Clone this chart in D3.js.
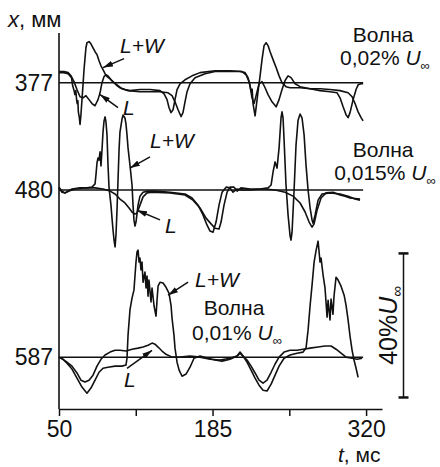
<!DOCTYPE html>
<html>
<head>
<meta charset="utf-8">
<script src="https://cdn.jsdelivr.net/npm/d3@7"></script>
<style>
  body { margin: 0; background: #fff; }
  svg { display: block; }
  text { font-family: "Liberation Sans", Arial, Helvetica, sans-serif; fill: #111; }
</style>
</head>
<body>
<div id="chart"></div>
<script>
// position labels and wave amplitudes for the 3 traces
var groupLabels = ["377", "480", "587"];
var groupBase = [90.6, 60.8, 14.4];      // baseline of each pair, in %U
var waveLabels = ["0,02%", "0,015%", "0,01%"];
var xTicks = [50, 117.5, 185, 252.5, 320];
var xTickLabels = ["50", "", "185", "", "320"];
var scaleBar = [3.2, 43.2];              // 40% U

// [t ms, u %U] relative to baseline
var g1LW = [[50,2.8],[54,2.8],[58,2.5],[61,1.4],[62,-0.8],[63.5,-2.5],[64,-3.3],[64.8,-2.2],[65.5,-4.8],[66,-5.8],[66.6,-5],[67,-8.1],[67.8,-9.5],[68.5,-11.6],[69.3,-8.9],[70.2,-4.7],[71.1,-0.6],[72,3.6],[72.9,6.9],[73.7,9.7],[74.6,11.1],[76.4,11.4],[78.1,10.8],[79.9,9.7],[81.7,8.6],[83.4,7.8],[85.2,6.1],[86.9,4.7],[88.7,3.6],[90.5,2.5],[92.2,1.7],[94.9,1.1],[98.4,0],[101,-0.8],[103.6,-1.4],[108,-1.9],[112.4,-2.2],[121.2,-1.9],[130,-1.9],[138.8,-2.2],[142.4,-3.1],[145,-4.7],[146.7,-6.9],[148.5,-8.3],[150.3,-7.5],[152,-4.7],[153.8,-1.9],[156.4,-0.3],[160.8,0.8],[167,1.9],[174,2.8],[187.2,3.3],[200.4,3.3],[211,3.1],[214.5,2.2],[217.1,0.3],[218.9,-2.5],[219.8,-1.8],[220.6,-5.8],[221.5,-7.5],[222.4,-9.2],[223.3,-6.9],[225,-2.5],[226.8,1.9],[228.5,6.4],[230.3,10.3],[232.1,11.1],[233.8,10.3],[235.6,8.6],[238.2,6.4],[240.9,4.2],[243.5,1.9],[246.1,0],[249.6,-1.1],[253.2,-1.4],[262,-1.4],[270.8,-1.7],[279.5,-1.7],[288.3,-1.9],[297.1,-2.2],[304.2,-2.8],[307.7,-3.9],[310.3,-5.8],[313,-8.1],[315.6,-9.7],[317.4,-10.6]];
var g1L = [[50,3.1],[54.4,3.1],[58,2.8],[60.6,1.9],[63.2,0.3],[65.8,-1.9],[68.5,-3.9],[71.1,-4.2],[73.7,-3.6],[76.4,-4.7],[79,-5.8],[81.7,-6.4],[84.3,-4.7],[86.1,-2.8],[87.8,0],[89.6,1.7],[91.3,2.2],[93.1,1.9],[95.7,0.8],[98.4,0],[101.9,-0.8],[105.4,-1.7],[110.7,-2.2],[121.2,-2.5],[130,-2.5],[138.8,-2.5],[145.9,-2.8],[149.4,-3.6],[152,-5.3],[154.7,-7.5],[157.3,-9.4],[159,-8.3],[160.8,-5.3],[162.6,-2.5],[165.2,-0.3],[169.6,1.4],[178.4,2.5],[187.2,3.1],[209.2,3.1],[213.6,2.8],[216.2,1.4],[218,-0.8],[219.7,-4.2],[221.5,-5.8],[223.3,-3.6],[225.9,-0.3],[228.5,0.3],[231.2,-1.4],[233.8,-3.3],[237.3,-5.3],[240.9,-6.7],[243.5,-4.7],[246.1,-1.9],[248.8,0.6],[251.4,1.9],[254,1.4],[257.6,-0.3],[262,-1.1],[270.8,-1.7],[279.5,-2.2],[288.3,-2.5],[294.5,-2.8],[297.1,-4.2],[299.8,-6.7],[302.4,-8.9],[304.2,-9.7],[305.9,-8.3],[308.6,-4.7],[311.2,-1.9],[313,-0.6],[315.6,-0.3],[317.4,-0.3]];

var g2LW = [[50,0.8],[52.6,-0.3],[55.3,-0.8],[57.9,-0.3],[61.4,0.3],[68.5,0.6],[74.6,0.6],[79,0.8],[81.7,1.7],[82.5,4.2],[83.4,7.5],[84.3,8.9],[85.2,8.3],[86.1,10.6],[86.9,6.7],[87.8,11.1],[88.7,16.1],[89.6,19.2],[90.5,20.3],[91.3,18.9],[92.2,15.3],[93.1,6.9],[94,0.6],[95.7,-4.2],[96.6,-7.8],[97.5,-11.1],[98.4,-13.9],[99.3,-15.8],[100.1,-12.5],[101,-5.6],[101.9,2.8],[102.8,11.1],[103.6,16.1],[105.4,19.7],[106.3,20.8],[108,20],[108.9,18.3],[109.8,15.3],[110.7,11.7],[112.4,6.9],[114.2,1.4],[115.1,-4.2],[115.9,-8.3],[116.8,-10],[117.7,-8.9],[119.5,-4.2],[121.2,-1.7],[123.9,-0.6],[128.3,-0.3],[134.4,-0.3],[147.6,-0.6],[160.8,-1.1],[167,-2.2],[172.3,-4.2],[176.6,-6.9],[180.1,-9.7],[182.8,-11.4],[185.4,-11.7],[188.1,-8.9],[190.7,-4.2],[193.4,-0.6],[196.9,0.8],[200.4,0.6],[203,-0.6],[206.6,0.3],[210.9,0],[218,0],[226.8,0.3],[233.8,0.6],[236.5,1.4],[238.2,5],[240,7.8],[241.7,6.1],[243.5,11.7],[245.2,20],[246.1,21.7],[247,20],[247.9,13.9],[249.6,1.4],[251.4,-6.9],[253.2,-12.8],[254,-13.9],[254.9,-11.7],[256.7,0],[258.4,12.5],[260.2,19.4],[262,21.1],[263.7,20],[265.5,15.3],[267.2,6.9],[269,0],[270.8,-5],[272.5,-8.3],[273.4,-9.2],[275.2,-6.9],[277.8,-2.8],[281.3,-1.1],[288.3,-0.8],[297.1,-1.1],[304.2,-1.7],[310.3,-2.5],[314.7,-2.8]];
var g2L = [[50,0.6],[52.6,-0.6],[55.3,-0.8],[58.8,-0.3],[64.1,0.3],[72.9,0.6],[81.7,0.6],[88.7,0.3],[94.9,-0.3],[99.3,-1.1],[103.6,-2.5],[108,-3.6],[111.6,-5],[114.2,-6.1],[116.8,-6.7],[118.6,-6.4],[121.2,-4.2],[123.9,-1.9],[127.4,-0.8],[131.8,-0.6],[147.6,-0.8],[160.8,-1.4],[167.8,-2.8],[174,-5],[179.3,-7.8],[183.7,-9.4],[187.2,-10.6],[190.7,-10.8],[192.5,-8.9],[195.1,-4.2],[197.8,-0.6],[200.4,0.8],[203.9,0.8],[206.6,-0.3],[210,0.6],[218,0.3],[231.2,0.3],[240,0],[248.8,-0.6],[255.8,-1.7],[262,-3.6],[266.4,-6.1],[269.9,-8.9],[272.5,-10.3],[274.3,-9.4],[276.9,-5.6],[280.4,-2.2],[284.8,-0.8],[291,-0.6],[297.1,-1.4],[301.5,-1.7],[305.9,-2.2],[314.7,-2.5]];

var g3LW = [[50,0],[53.5,-0.6],[57,-1.7],[61.4,-3.3],[65.8,-5.8],[70.2,-8.3],[74.6,-10],[78.1,-8.6],[81.7,-6.4],[85.2,-4.2],[88.7,-3.1],[93.1,-2.8],[99.3,-2.5],[105.4,-2.5],[108.9,-2.2],[109.8,-0.3],[110.7,6.1],[112.4,13.1],[114.2,16.4],[115.9,18.6],[117.7,26.4],[118.6,29.2],[119.5,29.7],[120.4,26.4],[121.2,27.5],[122.1,24.2],[123,26.4],[123.9,20.8],[125.6,23.6],[126.5,19.2],[127.4,22.5],[128.3,16.9],[129.1,21.4],[130.9,15.3],[131.8,19.2],[133.6,14.2],[135.3,11.4],[136.2,15.8],[137.1,19.7],[138.8,20.8],[141.5,20.6],[144.1,19.4],[146.7,17.8],[148.5,14.4],[149.4,10.8],[151.1,6.1],[152,2.5],[153.8,-1.4],[155.6,-3.6],[158.2,-5.3],[161.7,-4.7],[165.2,-2.8],[168.7,-0.3],[174,0.3],[181,-0.3],[187.2,-0.8],[193.4,-1.1],[200.4,-0.6],[206.6,0.3],[209.2,1.4],[211.8,0.3],[215.3,-1.4],[218.9,-3.6],[222.4,-5.8],[225.9,-7.8],[229.4,-9.2],[232.9,-9.4],[236.5,-7.5],[240,-5],[243.5,-2.5],[247.9,-0.3],[253.2,0.6],[259.3,1.1],[264.6,1.4],[267.2,2.5],[269,7.5],[270.8,14.4],[272.5,20],[274.3,26.4],[276.1,29.7],[277.8,32.2],[278.7,29.2],[279.5,26.4],[280.4,27.5],[282.2,22.8],[283.9,19.2],[285.7,11.1],[286.6,15.8],[288.3,10.3],[289.2,16.1],[290.9,11.9],[291.8,16.9],[293.6,22.2],[295.4,21.4],[298,19.7],[300.7,17.2],[302.4,14.4],[304.2,10.3],[305.9,5.8],[307.7,1.9],[309.4,-0.8],[311.2,-3.1],[313,-5.6]];
var g3L = [[50,0],[53.5,-0.6],[57,-1.4],[61.4,-2.5],[65.8,-4.4],[69.3,-6.4],[72.9,-6.9],[76.4,-6.4],[79.9,-5],[83.4,-2.5],[86.9,-0.6],[90.5,0.6],[94.9,1.4],[99.3,1.9],[103.6,1.9],[108.9,1.7],[114.2,2.2],[119.5,2.5],[123.9,2.8],[128.3,3.3],[131.8,3.9],[134.4,3.6],[137.1,2.8],[140.6,1.7],[144.1,0.8],[149.4,0],[156.4,0],[165.2,0.3],[174,0],[182.8,-0.6],[191.6,-0.8],[200.4,-0.3],[206.6,0.3],[209.2,1.1],[211.8,0.3],[215.3,-0.8],[218.9,-2.5],[222.4,-4.4],[225.9,-6.4],[229.4,-7.2],[232.9,-6.4],[236.5,-4.2],[240,-1.9],[243.5,0],[247.9,1.4],[253.2,1.9],[259.3,1.9],[264.6,2.2],[270.8,2.5],[277.8,2.8],[283.9,3.1],[289.2,3.1],[293.6,2.2],[298,1.1],[302.4,0],[307.7,-0.3],[312.1,-0.6],[316.5,-0.3]];

var traces = [[g1LW, g1L], [g2LW, g2L], [g3LW, g3L]];

// arrows [group, t0, u0, t1, u1] and their labels [group, t, u, text]
var arrows = [[0,107.2,6.7,88.7,4.2],[0,101.9,-6.9,86.1,-3.3],
              [1,130,9.2,112.4,6.1],[1,138.8,-8.3,118.6,-5.6],
              [2,163.5,20.8,145.9,17.2],[2,109.8,-3.1,131.8,1.9]];
var curveLabels = [[0,103.6,8.3,"L+W"],[0,106.3,-8.9,"L"],
                   [1,130,11.7,"L+W"],[1,143.2,-11.9,"L"],
                   [2,169.6,19.4,"L+W"],[2,107.2,-8.3,"L"]];
// wave captions [t, u] of "Волна" and of the amplitude line
var waveWordPos = [[335,11.4],[335,9.2],[203.9,11.7]];
var waveAmpPos = [[336.6,5],[336.6,2.8],[206.5,4.7]];

var width = 440, height = 467;

var x = d3.scaleLinear().domain([50, 334]).range([59, 382]);
var y = d3.scaleLinear().domain([0, 104.4]).range([409, 33]);

var svg = d3.select("#chart").append("svg")
    .attr("width", width)
    .attr("height", height);

svg.append("defs").append("marker")
    .attr("id", "arr")
    .attr("viewBox", "0 0 10 6")
    .attr("refX", 10).attr("refY", 3)
    .attr("markerWidth", 10).attr("markerHeight", 6)
    .attr("markerUnits", "userSpaceOnUse")
    .attr("orient", "auto")
  .append("path")
    .attr("d", "M0,0L10,3L0,6Z")
    .attr("fill", "#111");

// x axis
var xAxis = d3.axisBottom(x)
    .tickValues(xTicks)
    .tickFormat(function(d, i){ return xTickLabels[i]; })
    .tickSize(7)
    .tickSizeOuter(0)
    .tickPadding(5);

var gx = svg.append("g")
    .attr("transform", "translate(0," + y(0) + ")")
    .call(xAxis);
gx.select(".domain").attr("stroke", "#111").attr("stroke-width", 1.6);
gx.selectAll(".tick line").attr("stroke", "#111").attr("stroke-width", 1.5);
gx.selectAll(".tick text").style("font-size", "23px").attr("fill", "#111")
    .style("font-family", "'Liberation Sans', Arial, sans-serif");

// y axis line
svg.append("line")
    .attr("x1", x(50)).attr("x2", x(50))
    .attr("y1", y(104.4)).attr("y2", y(0))
    .attr("stroke", "#111").attr("stroke-width", 1.6);

// axis titles
var xt = svg.append("text").attr("x", 338).attr("y", 462).style("font-size", "21px");
xt.append("tspan").style("font-style", "italic").text("t");
xt.append("tspan").text(", мс");

var yt = svg.append("text").attr("x", 8).attr("y", 27).style("font-size", "22px");
yt.append("tspan").style("font-style", "italic").text("x");
yt.append("tspan").text(", мм");

var line = d3.line();

groupBase.forEach(function(b, gi){
    // baseline
    svg.append("line")
        .attr("x1", x(50)).attr("x2", x(317.4))
        .attr("y1", y(b)).attr("y2", y(b))
        .attr("stroke", "#111").attr("stroke-width", 1.5);

    svg.append("text")
        .attr("x", 53).attr("y", y(b) + 8)
        .attr("text-anchor", "end")
        .style("font-size", "23px")
        .text(groupLabels[gi]);

    traces[gi].forEach(function(tr){
        line.x(function(d){ return x(d[0]); })
            .y(function(d){ return y(b + d[1]); });
        svg.append("path")
            .attr("d", line(tr))
            .attr("fill", "none")
            .attr("stroke", "#111")
            .attr("stroke-width", 1.6)
            .attr("stroke-linejoin", "round");
    });

    svg.append("text")
        .attr("x", x(waveWordPos[gi][0])).attr("y", y(b + waveWordPos[gi][1]))
        .attr("text-anchor", "middle")
        .style("font-size", "21px")
        .text("Волна");

    var wa = svg.append("text")
        .attr("x", x(waveAmpPos[gi][0])).attr("y", y(b + waveAmpPos[gi][1]))
        .attr("text-anchor", "middle")
        .style("font-size", "21px");
    wa.append("tspan").text(waveLabels[gi] + "\u00A0");
    wa.append("tspan").style("font-style", "italic").text("U");
    wa.append("tspan").attr("dy", 5).style("font-size", "13px").text("\u221E");
});

// arrows
svg.selectAll(".arrow").data(arrows).enter()
  .append("line")
    .attr("class", "arrow")
    .attr("x1", function(d){ return x(d[1]); })
    .attr("y1", function(d){ return y(groupBase[d[0]] + d[2]); })
    .attr("x2", function(d){ return x(d[3]); })
    .attr("y2", function(d){ return y(groupBase[d[0]] + d[4]); })
    .attr("stroke", "#111")
    .attr("stroke-width", 1.5)
    .attr("marker-end", "url(#arr)");

svg.selectAll(".clab").data(curveLabels).enter()
  .append("text")
    .attr("class", "clab")
    .attr("x", function(d){ return x(d[1]); })
    .attr("y", function(d){ return y(groupBase[d[0]] + d[2]); })
    .style("font-size", "21px")
    .style("font-style", "italic")
    .text(function(d){ return d[3]; });

// scale bar 40% U
var sbx = 403.5;
svg.append("line")
    .attr("x1", sbx).attr("x2", sbx)
    .attr("y1", y(scaleBar[0])).attr("y2", y(scaleBar[1]))
    .attr("stroke", "#111").attr("stroke-width", 1.5);
scaleBar.forEach(function(v){
    svg.append("line")
        .attr("x1", sbx - 5).attr("x2", sbx + 5)
        .attr("y1", y(v)).attr("y2", y(v))
        .attr("stroke", "#111").attr("stroke-width", 2.5);
});
var sl = svg.append("text")
    .attr("transform", "translate(397," + y((scaleBar[0] + scaleBar[1]) / 2) + ") rotate(-90)")
    .attr("text-anchor", "middle")
    .style("font-size", "25px");
sl.append("tspan").text("40%");
sl.append("tspan").style("font-style", "italic").text("U");
sl.append("tspan").attr("dy", 5).style("font-size", "15px").text("\u221E");
</script>
</body>
</html>
